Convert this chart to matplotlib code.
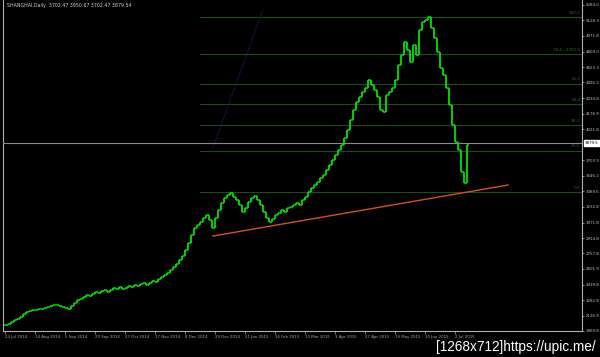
import matplotlib
matplotlib.use("Agg")
import matplotlib.pyplot as plt
import matplotlib.transforms as mtransforms
import numpy as np

# ---- data ----
closes_a = [2031, 2041, 2061, 2081, 2092, 2112, 2142, 2163, 2173, 2183, 2183, 2193, 2193,
            2203, 2214, 2224, 2234, 2234, 2224, 2214, 2203, 2193, 2224, 2254, 2285]
closes_b = [2295, 2315, 2336, 2325, 2346, 2366, 2356, 2376, 2386, 2366, 2386, 2407, 2397,
            2417, 2397, 2407, 2427, 2417, 2437, 2427, 2447, 2458, 2437, 2458, 2478, 2468,
            2498, 2519, 2539, 2559, 2590, 2620, 2651, 2691, 2732, 2793, 2864]
closes_c = [2946, 3017, 3047, 3078, 3118, 3149, 3098, 3020, 3118, 3200, 3271, 3322, 3352,
            3373, 3332, 3301, 3251, 3179, 3220, 3281, 3322, 3342, 3301, 3251, 3179, 3118,
            3078, 3108, 3149, 3169, 3200, 3179, 3220, 3230, 3251, 3271, 3251, 3301, 3332,
            3383, 3423, 3454, 3484, 3525, 3556, 3606, 3657, 3708, 3759, 3810, 3861, 3932,
            4013, 4115, 4216, 4298, 4349, 4399, 4440, 4521, 4471, 4420, 4349, 4216, 4196,
            4369, 4399, 4440, 4521, 4674, 4776, 4908, 4826, 4704, 4877, 4776, 5030, 5111,
            5131, 5162, 5050, 4948, 4806, 4643, 4572, 4440, 4267, 4064, 3891, 3810, 3586,
            3474, 3861]
closes = closes_a + closes_b + closes_c

date_labels = ["24 Jul 2014", "14 Aug 2014", "5 Sep 2014", "29 Sep 2014", "27 Oct 2014",
               "17 Nov 2014", "8 Dec 2014", "29 Dec 2014", "21 Jan 2015", "16 Feb 2015",
               "13 Mar 2015", "3 Apr 2015", "27 Apr 2015", "19 May 2015", "10 Jun 2015",
               "2 Jul 2015"]

price_ticks = [5284.0, 5128.3, 4971.8, 4809.0, 4653.3, 4496.2, 4334.8, 4176.9, 4021.8,
               3703.9, 3546.2, 3389.6, 3232.8, 3071.8, 2914.8, 2757.8, 2601.9, 2439.8,
               2282.8, 2126.9, 1969.8]

fib_low, fib_high = 3383.0, 5162.0
fib_levels = [0.0, 23.6, 38.2, 50.0, 61.8, 78.6, 100.0]
fib_labels = ["0.0", "23.6", "38.2", "50.0", "61.8", "78.6 - 4781.1", "100.0"]

trend_x = [69.3, 167.7]
trend_y = [2935, 3454]
blue_x = [69.3, 86.0]
blue_y = [3830, 5243]

last_price = 3879.54
title = "SHANGHAI,Daily  3702.47 3950.67 3702.47 3879.54"

# ---- figure ----
W, H = 600, 357
fig = plt.figure(figsize=(W / 100, H / 100), dpi=100, facecolor="black")
ax = fig.add_axes([3 / W, (H - 331) / H, 579 / W, 331 / H], facecolor="black")

n = len(closes)
x = np.arange(n)
opens = [closes[0]] + closes[:-1]
lows = np.minimum(opens, closes)
highs = np.maximum(opens, closes)
green = "#00e000"
ax.vlines(x, lows, highs, color=green, lw=1.3, zorder=4)
ax.hlines(opens, x - 0.5, x, color=green, lw=1.1, zorder=4)
ax.hlines(closes, x, x + 0.5, color=green, lw=1.1, zorder=4)

xmin, xmax = -0.667, 192.33
ax.set_xlim(xmin, xmax)
ax.set_ylim(1969.5, 5334.8)

# fibonacci
fib_start = 65
blend = mtransforms.blended_transform_factory(ax.transAxes, ax.transData)
for lvl, lab in zip(fib_levels, fib_labels):
    p = fib_low + (fib_high - fib_low) * lvl / 100.0
    ax.plot([fib_start, xmax], [p, p], color="#174d17", lw=0.8, zorder=2)
    ax.text(0.997, p + 25, lab, transform=blend, color="#2a6a2a", fontsize=3.0,
            ha="right", va="bottom", zorder=3)

# current price line
ax.axhline(last_price, color="#8a8a8a", lw=0.8, zorder=3)

# trendline and blue line
ax.plot(trend_x, trend_y, color="#d4501c", lw=1.0, zorder=5)
ax.plot(blue_x, blue_y, color="#1e1e70", lw=0.9, ls=(0, (1, 1)), zorder=2)

# axes styling
ax.spines["top"].set_visible(False)
for s in ["left", "bottom", "right"]:
    ax.spines[s].set_color("#b0b0b0")
    ax.spines[s].set_linewidth(0.8)

ax.yaxis.tick_right()
ax.set_yticks(price_ticks)
ax.set_yticklabels([f"{v:.1f}" for v in price_ticks])
ax.tick_params(axis="y", colors="#c0c0c0", labelsize=2.9, length=1.5, width=0.5, pad=1)

ax.set_xticks(np.arange(0, 10 * len(date_labels), 10))
ax.set_xticklabels(date_labels)
ax.tick_params(axis="x", colors="#a8a8a8", labelsize=2.8, length=2, width=0.5, pad=1)
for lbl in ax.get_xticklabels():
    lbl.set_ha("left")

# price box
ax.text(1.005, last_price, "3879.5", transform=blend, color="black", fontsize=2.9,
        ha="left", va="center", zorder=10, clip_on=False,
        bbox=dict(boxstyle="square,pad=0.2", fc="white", ec="white"))

ax.text(4 / 579, 1 - 3 / 331, title, transform=ax.transAxes, color="#d0d0d0",
        fontsize=3.4, ha="left", va="top")

fig.text(0.992, 0.008, "[1268x712]https://upic.me/", color="white", fontsize=9.8,
         ha="right", va="bottom", family="Liberation Sans")

fig.savefig("out.png", dpi=100, facecolor="black")
